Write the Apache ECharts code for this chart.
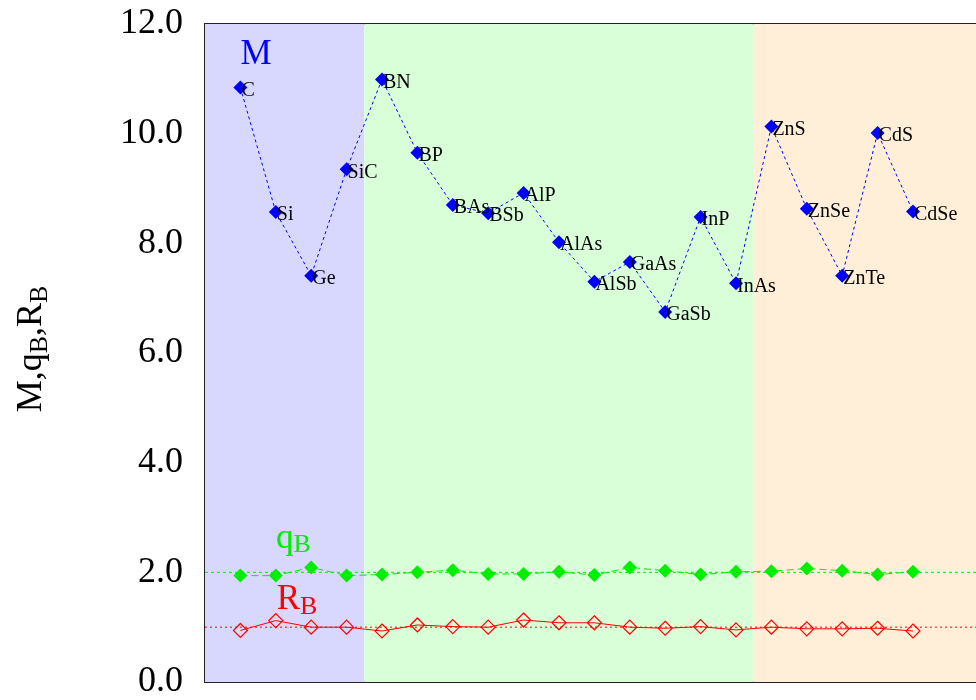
<!DOCTYPE html>
<html><head><meta charset="utf-8">
<script src="https://cdn.jsdelivr.net/npm/echarts@6/dist/echarts.min.js"></script>
<style>html,body{margin:0;padding:0;background:#fff}#c{width:976px;height:700px}</style>
</head><body><div id="c"></div>
<script>
const categories = ['C','Si','Ge','SiC','BN','BP','BAs','BSb','AlP','AlAs','AlSb','GaAs','GaSb','InP','InAs','ZnS','ZnSe','ZnTe','CdS','CdSe'];
const mValues  = [10.84, 8.57, 7.41, 9.35, 10.99, 9.65, 8.70, 8.55, 8.92, 8.02, 7.30, 7.66, 6.75, 8.48, 7.27, 10.13, 8.63, 7.41, 10.01, 8.58];
const qBValues = [1.94, 1.94, 2.09, 1.94, 1.96, 2.00, 2.04, 1.97, 1.97, 2.01, 1.95, 2.09, 2.03, 1.96, 2.01, 2.02, 2.07, 2.03, 1.96, 2.01];
const rBValues = [0.94, 1.12, 1.00, 1.00, 0.93, 1.04, 1.01, 1.00, 1.13, 1.08, 1.08, 1.00, 0.98, 1.01, 0.95, 1.00, 0.97, 0.97, 0.98, 0.93];
const regions = [[0, 4.5, '#d8d8ff'], [4.5, 15.5, '#d8ffd8'], [15.5, 21.78, '#ffefd8']];
const refLines = [[2, '#00ee00', [3, 3]], [1, '#ff0000', [2, 3]]];
const yTicks = [0, 2, 4, 6, 8, 10, 12];
const xMax = 21.78;

const serif = '"Liberation Serif","Times New Roman",serif';
const toPts = arr => arr.map((v, i) => [i + 1, v]);
const axisLine = {show: true, lineStyle: {color: '#222', width: 2}};

const chart = echarts.init(document.getElementById('c'), null, {renderer: 'canvas'});
chart.setOption({
  animation: false,
  grid: {left: 205, right: 0, top: 24, bottom: 16},
  xAxis: [
    {type: 'value', min: 0, max: xMax, position: 'bottom', axisLine: axisLine, axisTick: {show: false}, axisLabel: {show: false}, splitLine: {show: false}},
    {type: 'value', min: 0, max: xMax, position: 'top', axisLine: axisLine, axisTick: {show: false}, axisLabel: {show: false}, splitLine: {show: false}}
  ],
  yAxis: {
    type: 'value', min: yTicks[0], max: yTicks[yTicks.length - 1], interval: 2,
    axisLine: axisLine, axisTick: {show: false}, splitLine: {show: false},
    axisLabel: {fontFamily: serif, fontSize: 36, color: '#000', margin: 22, padding: [6, 0, 0, 0], formatter: v => v.toFixed(1)},
    name: 'M,q{s|B},R{s|B}', nameLocation: 'middle', nameRotate: 90, nameGap: 152,
    nameTextStyle: {fontFamily: serif, fontSize: 36, color: '#000', padding: [0, 0, 0, 8], rich: {s: {fontFamily: serif, fontSize: 26, color: '#000', verticalAlign: 'bottom', padding: [16, 0, 0, 0]}}}
  },
  series: [
    {
      type: 'line', data: [], silent: true, z: 1,
      markArea: {silent: true, itemStyle: {opacity: 1}, data: regions.map(r => [{xAxis: r[0], yAxis: 0, itemStyle: {color: r[2]}}, {xAxis: r[1], yAxis: 12}])}
    },
    ...refLines.map(r => ({
      type: 'line', silent: true, z: 2, symbol: 'none',
      data: [[0, r[0]], [xMax, r[0]]],
      lineStyle: {color: r[1], type: r[2], width: 1}
    })),
    {
      name: 'M', type: 'line', data: toPts(mValues), z: 5,
      symbol: 'diamond', symbolSize: 14,
      itemStyle: {color: '#0000ff'},
      lineStyle: {color: '#0000ff', width: 1, type: [3, 3]},
      label: {show: true, position: 'right', offset: [-11, 3], fontFamily: serif, fontSize: 20, color: '#000',
        formatter: p => categories[p.dataIndex]},
      markPoint: {symbol: 'circle', symbolSize: 0, data: [{coord: [1.44, 11.43]}],
        label: {show: true, position: 'inside', formatter: 'M', fontFamily: serif, fontSize: 35, color: '#0000ff'}}
    },
    {
      name: 'qB', type: 'line', data: toPts(qBValues), z: 4,
      symbol: 'diamond', symbolSize: 14,
      itemStyle: {color: '#00ee00'},
      lineStyle: {color: '#00ee00', width: 1, type: [7, 4]},
      markPoint: {symbol: 'circle', symbolSize: 0, data: [{coord: [2.5, 2.62]}],
        label: {show: true, position: 'inside', formatter: 'q{s|B}', fontFamily: serif, fontSize: 35, color: '#00ee00',
          rich: {s: {fontFamily: serif, fontSize: 26, color: '#00ee00', verticalAlign: 'bottom', padding: [14, 0, 0, 0]}}}}
    },
    {
      name: 'RB', type: 'line', data: toPts(rBValues), z: 4,
      symbol: 'diamond', symbolSize: 14,
      itemStyle: {color: 'rgba(255,255,255,0)', borderColor: '#ff0000', borderWidth: 1.2},
      lineStyle: {color: '#ff0000', width: 1},
      markPoint: {symbol: 'circle', symbolSize: 0, data: [{coord: [2.6, 1.5]}],
        label: {show: true, position: 'inside', formatter: 'R{s|B}', fontFamily: serif, fontSize: 35, color: '#ff0000',
          rich: {s: {fontFamily: serif, fontSize: 26, color: '#ff0000', verticalAlign: 'bottom', padding: [14, 0, 0, 0]}}}}
    }
  ]
});
</script></body></html>
